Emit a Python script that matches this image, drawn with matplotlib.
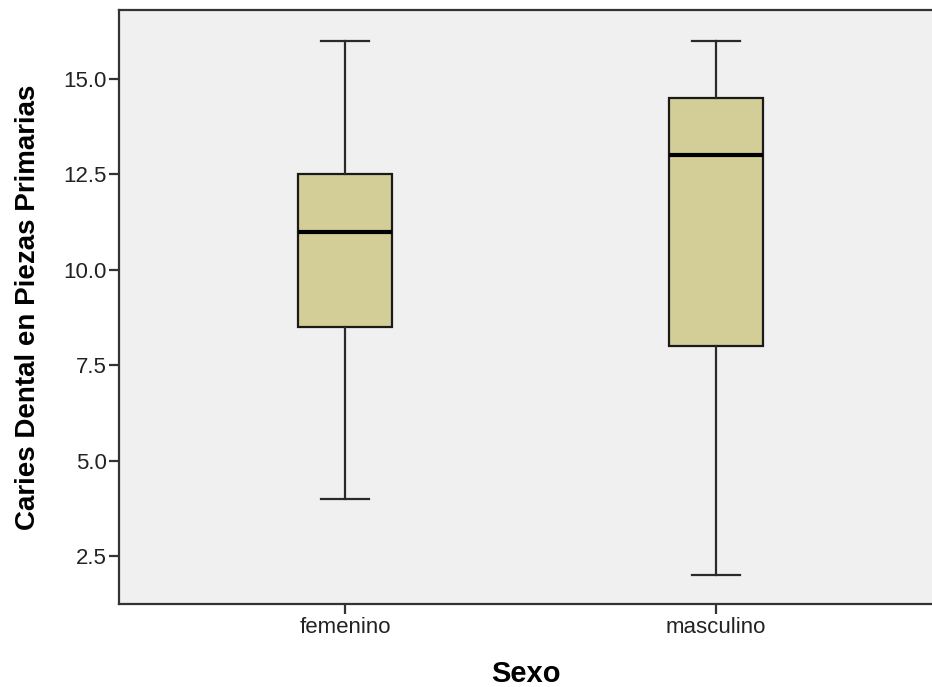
import matplotlib
matplotlib.use("Agg")
import matplotlib.pyplot as plt

# SPSS style boxplot: caries vs sexo
grupos = ["femenino", "masculino"]
minimos = [4.0, 2.0]
q1 = [8.5, 8.0]
medianas = [11.0, 13.0]
q3 = [12.5, 14.5]
maximos = [16.0, 16.0]
yticks = [2.5, 5.0, 7.5, 10.0, 12.5, 15.0]

plt.rcParams['font.family'] = ['Liberation Sans', 'DejaVu Sans']

stats = []
for g, lo, a, m, b, hi in zip(grupos, minimos, q1, medianas, q3, maximos):
    stats.append({"label": g, "whislo": lo, "q1": a, "med": m, "q3": b,
                  "whishi": hi, "fliers": []})

fig = plt.figure(figsize=(9.32, 6.87), dpi=100)
ax = fig.add_axes([0.1277, 0.1208, 0.8723, 0.8646])
ax.set_facecolor("#f0f0f0")

ax.bxp(stats, positions=[1, 2], widths=0.253, patch_artist=True,
       showfliers=False, capwidths=0.13,
       boxprops=dict(facecolor="#d3ce97", edgecolor="#1a1a1a", linewidth=1.6),
       medianprops=dict(color="black", linewidth=3),
       whiskerprops=dict(color="#2a2a2a", linewidth=1.6),
       capprops=dict(color="#2a2a2a", linewidth=1.6))

ax.set_xlim(0.391, 2.582)
ax.set_ylim(1.242, 16.81)
ax.set_yticks(yticks)
ax.set_yticklabels(["%.1f" % t for t in yticks])

for s in ["top", "left", "bottom"]:
    ax.spines[s].set_color("#333333")
    ax.spines[s].set_linewidth(1.6)
ax.spines["right"].set_visible(False)

ax.tick_params(axis="both", length=7, width=1.6, color="#333333",
               labelsize=16, labelcolor="#222222", pad=2)

ax.set_xlabel("Sexo", fontsize=21, fontweight="bold", labelpad=16)
ax.set_ylabel("Caries Dental en Piezas Primarias", fontsize=20,
              fontweight="bold", labelpad=16)

fig.savefig("out.png", dpi=100)
